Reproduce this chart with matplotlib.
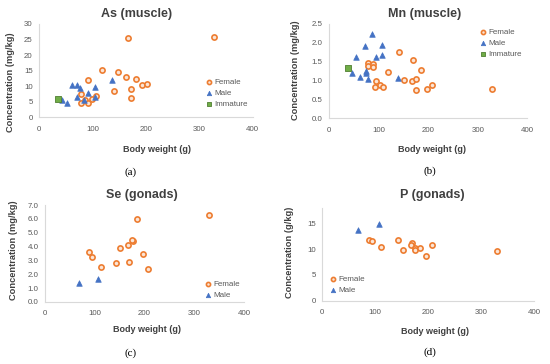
import numpy as np
import matplotlib.pyplot as plt

# Panel (a): As in muscle
female_w_a = [166, 327, 118, 148, 163, 182, 91, 193, 203, 172, 140, 78, 106, 99, 86, 79, 92, 173]
female_as = [25.6, 25.9, 15.1, 14.6, 13.1, 12.3, 11.9, 10.4, 10.6, 9.1, 8.5, 7.5, 6.8, 6.0, 5.6, 4.6, 4.6, 6.3]
male_w_a = [61, 71, 77, 104, 136, 72, 92, 44, 53, 84, 105]
male_as = [10.5, 10.4, 9.4, 9.8, 11.9, 6.5, 7.9, 5.7, 4.6, 5.5, 6.4]
imm_w_a = [36]
imm_as = [5.9]

# Panel (b): Mn in muscle
female_w_b = [142, 169, 185, 79, 88, 79, 88, 120, 151, 167, 175, 94, 103, 108, 92, 175, 197, 207, 328]
female_mn = [1.76, 1.55, 1.29, 1.47, 1.43, 1.38, 1.36, 1.22, 1.02, 0.99, 1.04, 0.98, 0.88, 0.84, 0.82, 0.74, 0.78, 0.87, 0.78]
male_w_b = [86, 73, 107, 54, 95, 107, 74, 74, 46, 62, 78, 139]
male_mn = [2.24, 1.93, 1.94, 1.63, 1.63, 1.67, 1.26, 1.19, 1.21, 1.10, 1.05, 1.06]
imm_w_b = [38]
imm_mn = [1.34]

# Panel (c): Se in gonads
female_w_c = [185, 330, 176, 174, 167, 151, 88, 95, 197, 143, 169, 112, 207]
female_se = [5.99, 6.25, 4.42, 4.45, 4.10, 3.91, 3.64, 3.28, 3.48, 2.85, 2.90, 2.49, 2.41]
male_w_c = [68, 106]
male_se = [1.40, 1.69]

# Panel (d): P in gonads
female_w_d = [89, 95, 112, 143, 152, 170, 167, 176, 175, 185, 207, 197, 330]
female_p = [11.8, 11.6, 10.5, 11.7, 9.8, 11.3, 10.9, 10.3, 9.9, 10.2, 10.9, 8.6, 9.7]
male_w_d = [67, 107]
male_p = [13.7, 14.8]

W, H = 550, 364
ORANGE = "#ED7D31"
BLUE = "#4472C4"
GREEN = "#70AD47"
TXT = "#595959"
DARK = "#404040"

plt.rcParams["font.family"] = ["Liberation Sans", "DejaVu Sans"]


def fx(x):
    return x / W


def fy(y):
    return 1 - y / H


def make_axes(fig, left, right, top, bottom):
    return fig.add_axes([fx(left), fy(bottom), (right - left) / W, (bottom - top) / H])


def style(ax, ylim, yticks, yfmt):
    ax.set_xlim(0, 400)
    ax.set_xticks([0, 100, 200, 300, 400])
    ax.set_ylim(*ylim)
    ax.set_yticks(yticks)
    ax.set_yticklabels([yfmt.format(v) for v in yticks])
    for s in ["top", "right"]:
        ax.spines[s].set_visible(False)
    for s in ["left", "bottom"]:
        ax.spines[s].set_color("#D9D9D9")
        ax.spines[s].set_linewidth(0.8)
    ax.tick_params(length=0, labelsize=5.7, colors=TXT)
    ax.tick_params(axis="y", pad=4.5)
    ax.tick_params(axis="x", pad=6)
    ax.patch.set_alpha(0)


def scatter_groups(ax, groups):
    for w, v, kind in groups:
        if kind == "Female":
            ax.scatter(w, v, s=14, marker="o", facecolor="#FBE5D6", edgecolor=ORANGE,
                       linewidth=1.2, label="Female", zorder=3)
        elif kind == "Male":
            ax.scatter(w, v, s=16, marker="^", facecolor=BLUE, edgecolor=BLUE,
                       linewidth=0.5, label="Male", zorder=3)
        else:
            ax.scatter(w, v, s=14, marker="s", facecolor=GREEN, edgecolor="#507E32",
                       linewidth=0.6, label="Immature", zorder=3)


def add_legend(ax, fig, x, y):
    ax.legend(loc="upper left", bbox_to_anchor=(fx(x), fy(y)), bbox_transform=fig.transFigure,
              frameon=False, fontsize=5.8, labelcolor=TXT, handlelength=0.6,
              handletextpad=0.3, borderpad=0, borderaxespad=0, labelspacing=0.45,
              markerscale=0.8)


fig = plt.figure(figsize=(W / 100, H / 100), dpi=100)

panels = [
    dict(box=(39, 252.5, 24, 117.3), ylim=(0, 30), yticks=[0, 5, 10, 15, 20, 25, 30], yfmt="{:.0f}",
         groups=[(female_w_a, female_as, "Female"), (male_w_a, male_as, "Male"), (imm_w_a, imm_as, "Immature")],
         title="As (muscle)", title_xy=(137, 14), ylab="Concentration (mg/kg)", ylab_xy=(11, 82),
         xlab_xy=(157, 149), sub="(a)", sub_xy=(131, 172), leg_xy=(207, 78)),
    dict(box=(329, 527.3, 24, 118.3), ylim=(0, 2.5), yticks=[0, 0.5, 1.0, 1.5, 2.0, 2.5], yfmt="{:.1f}",
         groups=[(female_w_b, female_mn, "Female"), (male_w_b, male_mn, "Male"), (imm_w_b, imm_mn, "Immature")],
         title="Mn (muscle)", title_xy=(425, 14), ylab="Concentration (mg/kg)", ylab_xy=(296, 70),
         xlab_xy=(432, 149), sub="(b)", sub_xy=(430, 171), leg_xy=(481, 28)),
    dict(box=(45, 244, 205, 302), ylim=(0, 7), yticks=[0, 1, 2, 3, 4, 5, 6, 7], yfmt="{:.1f}",
         groups=[(female_w_c, female_se, "Female"), (male_w_c, male_se, "Male")],
         title="Se (gonads)", title_xy=(142, 195), ylab="Concentration (mg/kg)", ylab_xy=(14, 250),
         xlab_xy=(147, 330), sub="(c)", sub_xy=(131, 353), leg_xy=(206, 280)),
    dict(box=(322, 534, 208, 300.7), ylim=(0, 18), yticks=[0, 5, 10, 15], yfmt="{:.0f}",
         groups=[(female_w_d, female_p, "Female"), (male_w_d, male_p, "Male")],
         title="P (gonads)", title_xy=(432, 195), ylab="Concentration (g/kg)", ylab_xy=(290, 252),
         xlab_xy=(435, 332), sub="(d)", sub_xy=(430, 352), leg_xy=(331, 275)),
]

for p in panels:
    ax = make_axes(fig, *p["box"])
    scatter_groups(ax, p["groups"])
    style(ax, p["ylim"], p["yticks"], p["yfmt"])
    add_legend(ax, fig, *p["leg_xy"])
    fig.text(fx(p["title_xy"][0]), fy(p["title_xy"][1]), p["title"], ha="center", va="center",
             fontsize=9, fontweight="bold", color=DARK)
    fig.text(fx(p["ylab_xy"][0]), fy(p["ylab_xy"][1]), p["ylab"], ha="center", va="center",
             rotation=90, fontsize=6.7, fontweight="bold", color=DARK)
    fig.text(fx(p["xlab_xy"][0]), fy(p["xlab_xy"][1]), "Body weight (g)", ha="center", va="center",
             fontsize=6.5, fontweight="bold", color=DARK)
    fig.text(fx(p["sub_xy"][0]), fy(p["sub_xy"][1]), p["sub"], ha="center", va="center",
             fontsize=8, family="Liberation Serif", color="black")

fig.savefig("out.png", dpi=100, facecolor="white")
